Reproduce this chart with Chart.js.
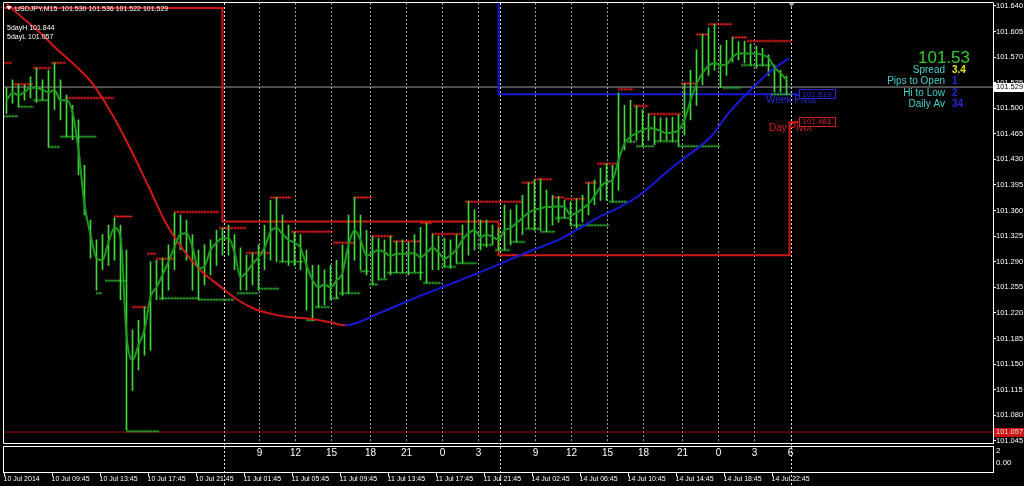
<!DOCTYPE html>
<html>
<head>
<meta charset="utf-8">
<title>USDJPY,M15</title>
<script src="https://cdn.jsdelivr.net/npm/chart.js@4.4.1/dist/chart.umd.min.js"></script>
<style>
  html, body { margin: 0; padding: 0; background: #000; }
  #chart { display: block; }
</style>
</head>
<body>
<canvas id="chart" width="1024" height="486"></canvas>
<script>
// M15 bars, sampled every 2nd bar. x = bar number counted from the 10 Jul 2014 open
var firstBar = 1, barStep = 2;

var barHigh = [
  101.528, 101.539, 101.533, 101.532, 101.543, 101.555, 101.539, 101.552, 101.562, 101.539,
  101.518, 101.504, 101.484, 101.422, 101.347, 101.320, 101.327, 101.340, 101.350, 101.340,
  101.306, 101.197, 101.210, 101.228, 101.290, 101.292, 101.295, 101.313, 101.357, 101.354,
  101.347, 101.327, 101.306, 101.313, 101.320, 101.333, 101.336, 101.340, 101.327, 101.309,
  101.299, 101.302, 101.313, 101.340, 101.374, 101.378, 101.354, 101.340, 101.331, 101.327,
  101.306, 101.285, 101.285, 101.279, 101.285, 101.292, 101.313, 101.354, 101.378, 101.354,
  101.333, 101.325, 101.322, 101.320, 101.325, 101.318, 101.320, 101.317, 101.327, 101.337,
  101.343, 101.328, 101.325, 101.322, 101.320, 101.327, 101.340, 101.373, 101.361, 101.347,
  101.347, 101.340, 101.336, 101.368, 101.361, 101.368, 101.381, 101.398, 101.402, 101.403,
  101.388, 101.381, 101.379, 101.374, 101.372, 101.376, 101.381, 101.398, 101.402, 101.418,
  101.424, 101.422, 101.521, 101.504, 101.511, 101.503, 101.498, 101.492, 101.489, 101.487,
  101.487, 101.488, 101.491, 101.534, 101.552, 101.580, 101.601, 101.610, 101.615, 101.586,
  101.593, 101.597, 101.591, 101.592, 101.588, 101.585, 101.582, 101.573, 101.559, 101.552,
  101.544
];
var barLow = [
  101.493, 101.507, 101.502, 101.511, 101.514, 101.508, 101.511, 101.447, 101.498, 101.484,
  101.461, 101.457, 101.409, 101.354, 101.295, 101.251, 101.279, 101.285, 101.292, 101.238,
  101.060, 101.114, 101.142, 101.162, 101.169, 101.238, 101.238, 101.251, 101.279, 101.306,
  101.292, 101.251, 101.238, 101.258, 101.272, 101.285, 101.299, 101.299, 101.279, 101.251,
  101.251, 101.258, 101.251, 101.279, 101.292, 101.290, 101.290, 101.285, 101.285, 101.279,
  101.224, 101.210, 101.228, 101.231, 101.238, 101.240, 101.244, 101.247, 101.292, 101.279,
  101.272, 101.259, 101.265, 101.268, 101.272, 101.275, 101.275, 101.272, 101.276, 101.265,
  101.261, 101.279, 101.279, 101.283, 101.281, 101.288, 101.288, 101.299, 101.306, 101.306,
  101.310, 101.313, 101.306, 101.306, 101.313, 101.317, 101.327, 101.336, 101.333, 101.333,
  101.331, 101.340, 101.344, 101.350, 101.340, 101.336, 101.344, 101.354, 101.368, 101.374,
  101.374, 101.372, 101.388, 101.443, 101.454, 101.456, 101.448, 101.456, 101.450, 101.455,
  101.456, 101.454, 101.448, 101.463, 101.484, 101.504, 101.532, 101.545, 101.552, 101.528,
  101.545, 101.563, 101.566, 101.562, 101.559, 101.555, 101.558, 101.545, 101.522, 101.522,
  101.519
];
// short smoothing average drawn over the bars
var fastMA = [
  101.511, 101.521, 101.518, 101.522, 101.528, 101.528, 101.525, 101.522, 101.525, 101.511,
  101.511, 101.495, 101.443, 101.368, 101.327, 101.295, 101.292, 101.317, 101.336, 101.324,
  101.190, 101.155, 101.176, 101.197, 101.242, 101.255, 101.272, 101.290, 101.310, 101.328,
  101.329, 101.310, 101.281, 101.284, 101.306, 101.316, 101.322, 101.322, 101.303, 101.269,
  101.276, 101.287, 101.296, 101.309, 101.331, 101.336, 101.328, 101.320, 101.316, 101.309,
  101.285, 101.265, 101.255, 101.259, 101.255, 101.264, 101.275, 101.313, 101.333, 101.320,
  101.298, 101.302, 101.306, 101.303, 101.298, 101.301, 101.301, 101.301, 101.302, 101.296,
  101.302, 101.309, 101.303, 101.294, 101.299, 101.307, 101.320, 101.329, 101.333, 101.324,
  101.327, 101.324, 101.320, 101.333, 101.336, 101.343, 101.350, 101.357, 101.361, 101.363,
  101.365, 101.365, 101.366, 101.365, 101.354, 101.357, 101.363, 101.369, 101.380, 101.392,
  101.399, 101.402, 101.429, 101.452, 101.461, 101.466, 101.470, 101.473, 101.472, 101.469,
  101.466, 101.467, 101.470, 101.484, 101.511, 101.533, 101.548, 101.558, 101.562, 101.559,
  101.560, 101.570, 101.575, 101.575, 101.575, 101.575, 101.573, 101.569, 101.556, 101.548,
  101.539
];

// long average, red while falling and blue while rising
var slowBars = [1, 6, 12, 18, 24, 30, 36, 42, 48, 54, 60, 66, 72, 78, 84, 90, 96, 102, 108, 114,
  126, 138, 150, 162, 174, 186, 198, 206, 212, 220, 226, 236, 242, 250, 256, 262];
var slowMA = [101.643, 101.625, 101.604, 101.580, 101.558, 101.532, 101.493, 101.447, 101.396, 101.344,
  101.306, 101.277, 101.257, 101.238, 101.225, 101.218, 101.214, 101.212, 101.208, 101.203,
  101.221, 101.242, 101.261, 101.281, 101.302, 101.322, 101.350, 101.366, 101.381, 101.409,
  101.429, 101.462, 101.495, 101.529, 101.552, 101.569];

// fractal levels [from bar, to bar, price]
var resLevels = [
  [0, 3, 101.562], [3, 10, 101.533], [10, 16, 101.555], [16, 21, 101.562], [21, 37, 101.514],
  [37, 43, 101.352], [43, 48, 101.228], [48, 51, 101.301], [51, 57, 101.294], [57, 72, 101.358],
  [72, 81, 101.336], [81, 89, 101.302], [89, 96, 101.378], [96, 110, 101.331], [110, 117, 101.316],
  [117, 123, 101.378], [123, 130, 101.325], [130, 139, 101.318], [139, 143, 101.343], [143, 153, 101.328],
  [154, 173, 101.372], [173, 177, 101.398], [177, 183, 101.403], [183, 187, 101.378], [187, 194, 101.376],
  [194, 198, 101.398], [198, 205, 101.424], [205, 210, 101.526], [210, 215, 101.503], [215, 226, 101.492],
  [226, 231, 101.534], [231, 235, 101.601], [235, 243, 101.615], [243, 248, 101.597], [248, 263, 101.592]
];
var supLevels = [
  [0, 5, 101.489], [5, 10, 101.502], [10, 15, 101.511], [15, 19, 101.447], [19, 31, 101.461],
  [31, 33, 101.247], [34, 41, 101.264], [41, 52, 101.058], [52, 65, 101.240], [65, 77, 101.238],
  [78, 85, 101.247], [85, 92, 101.253], [92, 100, 101.290], [101, 104, 101.210], [104, 109, 101.228],
  [109, 112, 101.240], [112, 119, 101.247], [119, 122, 101.277], [122, 125, 101.259], [125, 128, 101.266],
  [128, 140, 101.275], [140, 146, 101.261], [146, 151, 101.283], [151, 158, 101.288], [158, 163, 101.313],
  [164, 169, 101.306], [169, 174, 101.317], [174, 179, 101.335], [179, 184, 101.331], [184, 189, 101.350],
  [189, 202, 101.340], [202, 208, 101.372], [208, 211, 101.454], [211, 217, 101.448], [217, 225, 101.455],
  [225, 239, 101.448], [240, 246, 101.528], [246, 256, 101.559], [256, 263, 101.519]
];

// pivots
var dayPivotBars = [0, 73, 165, 262, 265];
var dayPivots = [101.637, 101.345, 101.299, 101.481, 101.481];
var weekPivotBars = [165, 265];
var weekPivots = [101.720, 101.519];

var bid = 101.529;
var fiveDayHigh = 101.844, fiveDayLow = 101.057;
var lastOHLC = [101.530, 101.536, 101.522, 101.529];
var infoRows = [['Spread', '3.4', '#e6e61e'], ['Pips to Open', '1', '#2626dc'],
                ['Hi to Low', '2', '#2626dc'], ['Daily Av', '34', '#2626dc']];

// axes
var priceTicks = [101.640, 101.605, 101.570, 101.535, 101.500, 101.465, 101.430, 101.395, 101.360,
  101.325, 101.290, 101.255, 101.220, 101.185, 101.150, 101.115, 101.080, 101.045];
var timeTickBars = [0, 16, 32, 48, 64, 80, 96, 112, 128, 144, 160, 176, 192, 208, 224, 240, 256];
var timeLabels = ['10 Jul 2014', '10 Jul 09:45', '10 Jul 13:45', '10 Jul 17:45', '10 Jul 21:45',
  '11 Jul 01:45', '11 Jul 05:45', '11 Jul 09:45', '11 Jul 13:45', '11 Jul 17:45', '11 Jul 21:45',
  '14 Jul 02:45', '14 Jul 06:45', '14 Jul 10:45', '14 Jul 14:45', '14 Jul 18:45', '14 Jul 22:45'];
var hourBars = [85, 97, 109, 122, 134, 146, 158, 177, 189, 201, 213, 226, 238, 250, 262];
var hourLabels = ['9', '12', '15', '18', '21', '0', '3', '9', '12', '15', '18', '21', '0', '3', '6'];
var daySepBars = [73, 165, 262];

var FONT = '"Liberation Sans", Arial, sans-serif';

function barX(i) { return firstBar + i * barStep; }

function levelPoints(list) {
  var pts = [];
  list.forEach(function (s) {
    pts.push({x: s[0], y: s[2]}, {x: s[1], y: s[2]}, {x: s[1], y: null});
  });
  return pts;
}

function txt(c, s, x, y, color, size, align, bold) {
  c.fillStyle = color;
  c.font = (bold ? 'bold ' : '') + size + 'px ' + FONT;
  c.textAlign = align || 'left';
  c.textBaseline = 'middle';
  c.fillText(s, x, y);
}

var overlay = {
  id: 'overlay',
  beforeDraw: function (chart) {
    var c = chart.ctx;
    c.save();
    c.fillStyle = '#000';
    c.fillRect(0, 0, chart.width, chart.height);
    c.restore();
  },
  beforeDatasetsDraw: function (chart) {
    var c = chart.ctx, a = chart.chartArea, xs = chart.scales.x;
    c.save();
    c.lineWidth = 1;
    c.setLineDash([2, 2]);
    c.strokeStyle = '#9c9c9c';
    hourBars.forEach(function (b) {
      if (daySepBars.indexOf(b) >= 0) return;
      var px = Math.round(xs.getPixelForValue(b)) + 0.5;
      c.beginPath(); c.moveTo(px, a.top); c.lineTo(px, a.bottom); c.stroke();
    });
    c.strokeStyle = '#e8e8e8';
    daySepBars.forEach(function (b) {
      var px = Math.round(xs.getPixelForValue(b)) + 1.5;
      c.beginPath(); c.moveTo(px, a.top); c.lineTo(px, chart.height); c.stroke();
    });
    c.restore();
  },
  afterDraw: function (chart) {
    var c = chart.ctx, a = chart.chartArea, xs = chart.scales.x, ys = chart.scales.y;
    c.save();
    c.setLineDash([]);
    c.lineWidth = 1;
    c.strokeStyle = '#ffffff';
    // frames
    c.beginPath();
    c.moveTo(3.5, a.bottom + 0.5); c.lineTo(3.5, 2.5); c.lineTo(a.right + 0.5, 2.5);
    c.moveTo(3.5, a.bottom + 0.5); c.lineTo(a.right + 0.5, a.bottom + 0.5);
    c.stroke();
    c.strokeRect(3.5, 446.5, a.right - 3, 26);

    // sub-window hour labels and scale
    hourBars.forEach(function (b, i) {
      txt(c, hourLabels[i], xs.getPixelForValue(b) + 1, 453, '#ffffff', 10, 'center');
    });
    txt(c, '2', 996, 451, '#ffffff', 8, 'left');
    txt(c, '0.00', 996, 463, '#ffffff', 8, 'left');

    // time tick marks
    c.beginPath();
    timeTickBars.forEach(function (b) {
      var px = Math.round(xs.getPixelForValue(b)) + 0.5;
      c.moveTo(px, 473); c.lineTo(px, 476);
    });
    c.stroke();

    // header
    c.fillStyle = '#ffffff';
    c.beginPath(); c.moveTo(6, 6); c.lineTo(12, 6); c.lineTo(9, 10); c.closePath(); c.fill();
    txt(c, 'USDJPY,M15  ' + lastOHLC.map(function (v) { return v.toFixed(3); }).join(' '),
        15, 9, '#ffffff', 7, 'left');
    txt(c, '5dayH ' + fiveDayHigh.toFixed(3), 7, 28, '#ffffff', 7, 'left');
    txt(c, '5dayL ' + fiveDayLow.toFixed(3), 7, 37, '#ffffff', 7, 'left');

    // shift marker
    var sx = Math.round(xs.getPixelForValue(262)) + 1.5;
    c.fillStyle = '#a0a0a0';
    c.beginPath(); c.moveTo(sx - 3, 3); c.lineTo(sx + 3, 3); c.lineTo(sx, 7); c.closePath(); c.fill();

    // info panel
    txt(c, bid.toFixed(2), 970, 58, '#32cd32', 17, 'right');
    infoRows.forEach(function (r, i) {
      var y = 70 + i * 11.4;
      txt(c, r[0], 945, y, '#48d1cc', 10, 'right');
      txt(c, r[1], 952, y, r[2], 10, 'left', true);
    });

    // pivot tags
    var wy = ys.getPixelForValue(weekPivots[1]);
    var dy = ys.getPixelForValue(dayPivots[3]);
    txt(c, 'Week Pivot', 766, wy + 6, '#2a2ad6', 10, 'left');
    txt(c, 'Day Pivot', 769, dy + 6, '#d42020', 10, 'left');
    c.fillStyle = '#000';
    c.fillRect(799, wy - 4, 37, 9);
    c.fillRect(799, dy - 4, 37, 9);
    c.strokeStyle = '#2a2ad6';
    c.strokeRect(799.5, Math.round(wy) - 4.5, 36, 9);
    txt(c, weekPivots[1].toFixed(3), 817, wy, '#2a2ad6', 8, 'center');
    c.strokeStyle = '#d42020';
    c.strokeRect(799.5, Math.round(dy) - 4.5, 36, 9);
    txt(c, dayPivots[3].toFixed(3), 817, dy, '#d42020', 8, 'center');

    // price tags on the axis
    var by = ys.getPixelForValue(bid);
    c.fillStyle = '#ffffff';
    c.fillRect(994, Math.round(by) - 4, 30, 9);
    txt(c, bid.toFixed(3), 996, by, '#000000', 7.5, 'left');
    var ly = ys.getPixelForValue(fiveDayLow);
    c.fillStyle = '#c81414';
    c.fillRect(994, Math.round(ly) - 4, 30, 9);
    txt(c, fiveDayLow.toFixed(3), 996, ly, '#ffd4d4', 7.5, 'left');
    c.restore();
  }
};

var bars = barHigh.map(function (h, i) { return {x: barX(i), y: [barLow[i], h]}; });
var fastPts = fastMA.map(function (v, i) { return {x: barX(i), y: v}; });
var slowPts = slowMA.map(function (v, i) { return {x: slowBars[i], y: v}; });
var dayPts = dayPivots.map(function (v, i) { return {x: dayPivotBars[i], y: v}; });
var weekPts = weekPivots.map(function (v, i) { return {x: weekPivotBars[i], y: v}; });

var lineBase = {type: 'line', pointRadius: 0, fill: false, spanGaps: false};

var ctx = document.getElementById('chart').getContext('2d');
var chart = new Chart(ctx, {
  type: 'line',
  data: {
    datasets: [
      Object.assign({}, lineBase, {label: 'fast', data: fastPts, borderColor: '#1f9a1f', borderWidth: 2,
        cubicInterpolationMode: 'monotone', order: 0}),
      Object.assign({}, lineBase, {label: 'slow', data: slowPts, borderWidth: 2,
        cubicInterpolationMode: 'monotone', borderColor: '#d01818', order: 1,
        segment: {borderColor: function (s) { return s.p1.parsed.y > s.p0.parsed.y ? '#1818d8' : '#d01818'; }}}),
      {type: 'bar', label: 'bars', data: bars, backgroundColor: '#40d83c', barThickness: 1,
        borderWidth: 0, order: 2},
      Object.assign({}, lineBase, {label: 'res', data: levelPoints(resLevels), borderColor: '#e01a1a',
        borderWidth: 3, borderDash: [1, 2], order: 3}),
      Object.assign({}, lineBase, {label: 'res2', data: levelPoints(resLevels), borderColor: '#e01a1a',
        borderWidth: 1, order: 3}),
      Object.assign({}, lineBase, {label: 'sup', data: levelPoints(supLevels), borderColor: '#28a028',
        borderWidth: 3, borderDash: [1, 2], order: 4}),
      Object.assign({}, lineBase, {label: 'sup2', data: levelPoints(supLevels), borderColor: '#28a028',
        borderWidth: 1, order: 4}),
      Object.assign({}, lineBase, {label: 'day pivot', data: dayPts, borderColor: '#d01818',
        borderWidth: 2, stepped: 'before', order: 5}),
      Object.assign({}, lineBase, {label: 'week pivot', data: weekPts, borderColor: '#1818d8',
        borderWidth: 2, stepped: 'after', order: 5}),
      Object.assign({}, lineBase, {label: 'bid', data: [{x: 0, y: bid}, {x: 330, y: bid}],
        borderColor: '#9a9a9a', borderWidth: 1, order: 6}),
      Object.assign({}, lineBase, {label: '5dayL', data: [{x: 0, y: fiveDayLow}, {x: 330, y: fiveDayLow}],
        borderColor: '#9a1010', borderWidth: 1, order: 6})
    ]
  },
  options: {
    responsive: false,
    animation: false,
    events: [],
    layout: {padding: {left: 3.5, top: 3, right: 0, bottom: 0}},
    plugins: {legend: {display: false}, tooltip: {enabled: false}},
    scales: {
      x: {
        type: 'linear', min: 0, max: 329.83, offset: false,
        afterFit: function (s) { s.height = 43; s.paddingLeft = 0; s.paddingRight = 0; },
        afterBuildTicks: function (s) { s.ticks = timeTickBars.map(function (v) { return {value: v}; }); },
        grid: {display: false, drawTicks: false},
        border: {display: false},
        ticks: {
          autoSkip: false, maxRotation: 0, align: 'start', padding: 32, color: '#ffffff',
          font: {family: FONT, size: 7},
          callback: function (v, i) { return timeLabels[i]; }
        }
      },
      y: {
        position: 'right', min: 101.042, max: 101.644,
        afterFit: function (s) { s.width = 31; s.paddingTop = 0; s.paddingBottom = 0; },
        afterBuildTicks: function (s) { s.ticks = priceTicks.map(function (v) { return {value: v}; }); },
        grid: {drawOnChartArea: false, drawTicks: true, tickLength: 3, color: '#ffffff'},
        border: {display: true, color: '#ffffff'},
        ticks: {
          padding: 0, color: '#ffffff', font: {family: FONT, size: 7.5},
          callback: function (v) { return v.toFixed(3); }
        }
      }
    }
  },
  plugins: [overlay]
});
</script>
</body>
</html>
